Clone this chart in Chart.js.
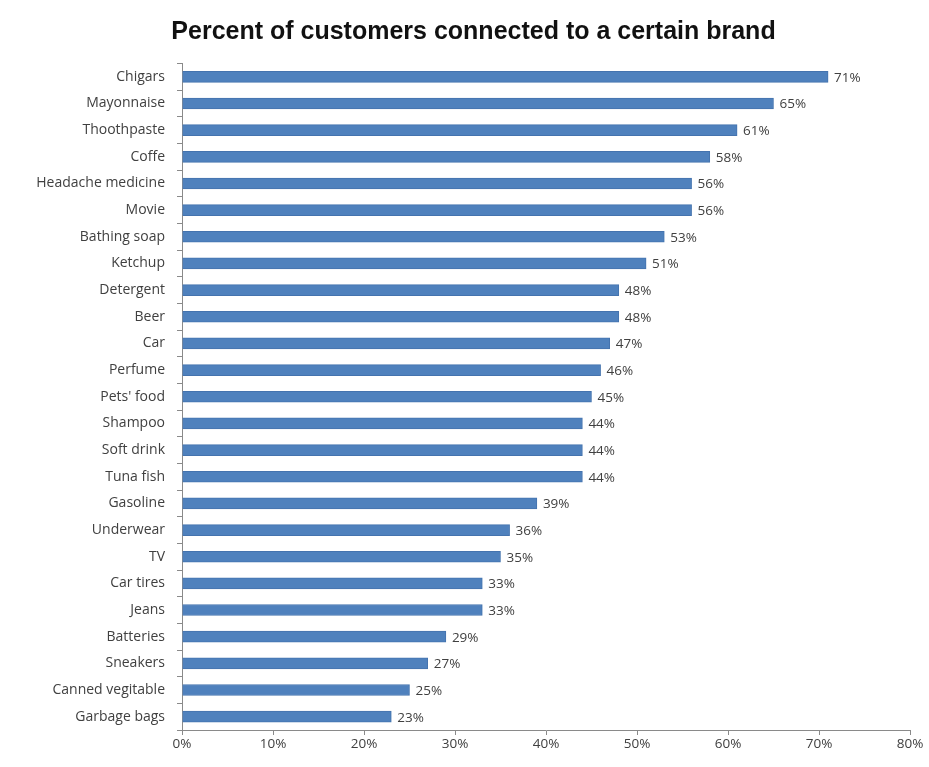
<!DOCTYPE html>
<html>
<head>
<meta charset="utf-8">
<script src="https://cdn.jsdelivr.net/npm/chart.js@4"></script>
<style>
  html, body { margin: 0; padding: 0; background: #fff; }
  #wrap { width: 929px; height: 767px; }
</style>
</head>
<body>
<div id="wrap"><canvas id="brandChart" width="929" height="767"></canvas></div>
<script>
// Chart data
const categories = ['Chigars', 'Mayonnaise', 'Thoothpaste', 'Coffe', 'Headache medicine', 'Movie',
    'Bathing soap', 'Ketchup', 'Detergent', 'Beer', 'Car', 'Perfume', "Pets' food", 'Shampoo',
    'Soft drink', 'Tuna fish', 'Gasoline', 'Underwear', 'TV', 'Car tires', 'Jeans', 'Batteries',
    'Sneakers', 'Canned vegitable', 'Garbage bags'];
const percentValues = [71, 65, 61, 58, 56, 56, 53, 51, 48, 48, 47, 46, 45, 44, 44, 44, 39, 36, 35, 33, 33, 29, 27, 25, 23];
const xTicks = [0, 10, 20, 30, 40, 50, 60, 70, 80];

const labelFont = "'Open Sans', 'Liberation Sans', sans-serif";

// draws the "71%" labels at the end of each bar
const barLabels = {
    id: 'barLabels',
    afterDatasetsDraw(chart) {
        const ctx = chart.ctx;
        const meta = chart.getDatasetMeta(0);
        ctx.save();
        ctx.font = "13.5px " + labelFont;
        ctx.fillStyle = '#404040';
        ctx.textAlign = 'left';
        ctx.textBaseline = 'middle';
        meta.data.forEach(function(bar, i) {
            ctx.fillText(percentValues[i] + '%', bar.x + 6, bar.y + 1);
        });
        ctx.restore();
    }
};

const ctx = document.getElementById('brandChart').getContext('2d');
new Chart(ctx, {
    type: 'bar',
    data: {
        labels: categories,
        datasets: [{
            data: percentValues,
            backgroundColor: '#4F81BD',
            borderColor: '#4473AE',
            borderWidth: 1,
            barThickness: 11
        }]
    },
    options: {
        indexAxis: 'y',
        responsive: false,
        animation: false,
        layout: { padding: { top: 0, right: 19, bottom: 0, left: 37 } },
        plugins: {
            legend: { display: false },
            tooltip: { enabled: false },
            title: {
                display: true,
                text: 'Percent of customers connected to a certain brand',
                color: '#111',
                font: { family: "'Liberation Sans', sans-serif", size: 25, weight: 'bold', lineHeight: 1.1 },
                padding: { top: 18, bottom: 18 }
            }
        },
        scales: {
            x: {
                min: 0,
                max: 80,
                afterBuildTicks: function(axis) {
                    axis.ticks = xTicks.map(v => ({ value: v }));
                },
                afterFit: function(axis) { axis.height = 37; },
                grid: { drawOnChartArea: false, color: '#8a8a8a', tickLength: 5 },
                border: { color: '#8a8a8a' },
                ticks: {
                    color: '#404040',
                    font: { family: labelFont, size: 13.5 },
                    padding: 1,
                    maxRotation: 0,
                    callback: function(value) { return value + '%'; }
                }
            },
            y: {
                afterFit: function(axis) { axis.width = 145; },
                grid: { drawOnChartArea: false, color: '#8a8a8a', tickLength: 5, offset: true },
                border: { color: '#8a8a8a' },
                ticks: {
                    color: '#404040',
                    font: { family: labelFont, size: 14 },
                    padding: 12
                }
            }
        }
    },
    plugins: [barLabels]
});
</script>
</body>
</html>
